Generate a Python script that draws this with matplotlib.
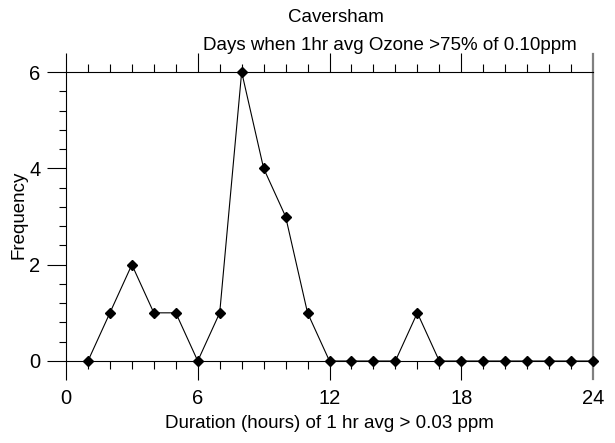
import matplotlib
matplotlib.use('Agg')
import matplotlib.pyplot as plt
from matplotlib.ticker import MultipleLocator

plt.rcParams['font.family'] = ['Liberation Sans', 'DejaVu Sans']

# hours of duration vs number of days
hours = [1, 2, 3, 4, 5, 6, 7, 8, 9, 10, 11, 12, 13, 14, 15, 16, 17, 18, 19, 20, 21, 22, 23, 24]
freq = [0, 1, 2, 1, 1, 0, 1, 6, 4, 3, 1, 0, 0, 0, 0, 1, 0, 0, 0, 0, 0, 0, 0, 0]

x_ticks = [0, 6, 12, 18, 24]
y_ticks = [0, 2, 4, 6]

fig = plt.figure(figsize=(6.15, 4.43), dpi=100)
ax = fig.add_axes([66 / 615, 82 / 443, 527 / 615, 289 / 443])

ax.plot(hours, freq, color='black', lw=0.8, marker='D', ms=5.5, clip_on=False, zorder=5)

ax.set_xlim(0, 24)
ax.set_ylim(0, 6)
ax.set_xticks(x_ticks)
ax.set_yticks(y_ticks)
ax.xaxis.set_minor_locator(MultipleLocator(1))
ax.yaxis.set_minor_locator(MultipleLocator(0.4))

ax.tick_params(axis='x', which='both', direction='out', top=True, bottom=True,
               labelsize=14.5, width=0.8, pad=7)
ax.tick_params(axis='x', which='major', length=13.5)
ax.tick_params(axis='x', which='minor', length=5.5)
ax.tick_params(axis='y', which='both', direction='out', left=True, right=False,
               labelsize=14.5, width=0.8, pad=5)
ax.tick_params(axis='y', which='major', length=13.5)
ax.tick_params(axis='y', which='minor', length=5)

for side in ['left', 'top', 'bottom']:
    ax.spines[side].set_linewidth(0.8)
ax.spines['right'].set_color('#808080')
ax.spines['right'].set_linewidth(1.6)
ax.spines['right'].set_bounds(-0.38, 6.38)

# grey right line replaces the black ticks at 24
last = ax.xaxis.get_major_ticks()[-1]
last.tick1line.set_visible(False)
last.tick2line.set_visible(False)

ax.set_xlabel('Duration (hours) of 1 hr avg > 0.03 ppm', fontsize=13.5, labelpad=5)
fig.text(19 / 615, 1 - 215 / 443, 'Frequency', rotation=90, ha='center', va='center', fontsize=13.5)
fig.text(336 / 615, 1 - 18 / 443, 'Caversham', ha='center', va='center', fontsize=13.5)
fig.text(390 / 615, 1 - 45 / 443, 'Days when 1hr avg Ozone >75% of 0.10ppm',
         ha='center', va='center', fontsize=13.5)

fig.savefig('out.png', dpi=100)
